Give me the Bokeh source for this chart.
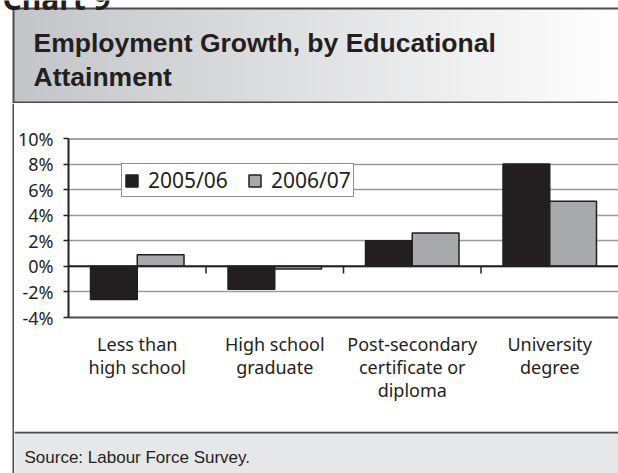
import numpy as np
from bokeh.plotting import figure
from bokeh.models import (Range1d, FactorRange, FixedTicker, PrintfTickFormatter,
                          Span, ColumnDataSource, Legend, LegendItem)
from bokeh.transform import dodge
from bokeh.layouts import column, row
from bokeh.core.properties import value
from bokeh.embed import file_html
from bokeh.resources import INLINE

# ---------------- data ----------------
categories = ["Less than\nhigh school", "High school\ngraduate",
              "Post-secondary\ncertificate or\ndiploma", "University\ndegree"]
series_names = ["2005/06", "2006/07"]
growth_2005_06 = [-2.6, -1.8, 2.0, 8.0]
growth_2006_07 = [0.9, -0.2, 2.6, 5.1]
y_ticks = [-4, -2, 0, 2, 4, 6, 8, 10]

chart_label = "Chart 9"
title_lines = ["Employment Growth, by Educational", "Attainment"]
source_text = "Source: Labour Force Survey."

# ---------------- styles ----------------
W = 618
INK = "#231f20"
FRAME = "#4d4d4d"
DARK_FILL = "#231f20"
GRAY_FILL = "#a7a9ac"
GRID = "#9a9a9a"
FOOT_BG = "#e6e7e8"
AXIS_FONT = "Noto Sans"
TITLE_FONT = "Liberation Sans"


def bare(fig, bg="white"):
    fig.axis.visible = False
    fig.grid.visible = False
    fig.outline_line_color = None
    fig.background_fill_color = bg
    fig.border_fill_color = bg
    return fig


# ---------------- header ----------------
HH = 103
header = bare(figure(width=W, height=HH, x_range=Range1d(0, W), y_range=Range1d(0, HH),
                     output_backend="svg", toolbar_location=None, min_border=0,
                     frame_align=False))
n = W - 13
t = np.linspace(0, 1, n)
left_c = np.array([196, 197, 200], dtype=float)
right_c = np.array([255, 255, 255], dtype=float)
img = np.zeros((1, n), dtype=np.uint32)
view = img.view(dtype=np.uint8).reshape((1, n, 4))
for k in range(3):
    view[0, :, k] = (left_c[k] + (right_c[k] - left_c[k]) * t).astype(np.uint8)
view[0, :, 3] = 255
header.image_rgba(image=[img], x=13, y=0, dw=n, dh=HH - 8)
header.segment(x0=[13, 13, 13], y0=[HH - 8, HH - 8, 1], x1=[W, 13, W], y1=[HH - 8, 0, 1],
               line_color=FRAME, line_width=2)
header.text(x=[2], y=[HH + 2], text=[chart_label], text_font=value("Noto Sans"),
            text_font_style="bold", text_font_size=value("30px"), text_color=INK,
            text_baseline="alphabetic")
header.text(x=[33, 33], y=[HH - 42, HH - 76], text=title_lines, text_font=value(TITLE_FONT),
            text_font_style="bold", text_font_size=value("26.5px"), text_color=INK,
            text_baseline="alphabetic")

# ---------------- left strip ----------------
SH = 473 - HH
strip = bare(figure(width=14, height=SH, x_range=Range1d(0, 14), y_range=Range1d(0, SH),
                    output_backend="svg", toolbar_location=None, min_border=0,
                    frame_align=False))
strip.segment(x0=[13], y0=[0], x1=[13], y1=[SH], line_color=FRAME, line_width=2)

# ---------------- body (chart) ----------------
BW, BH = W - 14, 328
body = figure(width=BW, height=BH, x_range=FactorRange(*categories),
              y_range=Range1d(y_ticks[0], y_ticks[-1]),
              output_backend="svg", toolbar_location=None, frame_align=False,
              min_border_left=54, min_border_right=0, min_border_top=35, min_border_bottom=114)
body.outline_line_color = None
body.background_fill_color = "white"
body.border_fill_color = "white"
body.x_range.range_padding = 0

src = ColumnDataSource(dict(cat=categories, a=growth_2005_06, b=growth_2006_07))
r1 = body.vbar(x=dodge("cat", -0.17, range=body.x_range), top="a", bottom=0, width=0.34,
               source=src, fill_color=DARK_FILL, line_color=INK, line_width=1.5)
r2 = body.vbar(x=dodge("cat", 0.17, range=body.x_range), top="b", bottom=0, width=0.34,
               source=src, fill_color=GRAY_FILL, line_color=INK, line_width=1.5)

# y axis
yax = body.yaxis[0]
yax.ticker = FixedTicker(ticks=y_ticks)
yax.formatter = PrintfTickFormatter(format="%d%%")
yax.major_tick_out = 5
yax.major_tick_in = 0
yax.minor_tick_line_color = None
yax.axis_line_color = INK
yax.axis_line_width = 2
yax.major_tick_line_color = INK
yax.major_tick_line_width = 1.5
yax.major_label_standoff = 10
yax.major_label_text_font = AXIS_FONT
yax.major_label_text_font_size = "18px"
yax.major_label_text_color = INK

# x axis (bottom, acts as the -4% frame line)
xax = body.xaxis[0]
xax.major_tick_line_color = None
xax.minor_tick_line_color = None
xax.axis_line_color = FRAME
xax.axis_line_width = 2
xax.major_label_standoff = 8
xax.major_label_text_font = AXIS_FONT
xax.major_label_text_font_size = "18px"
xax.major_label_text_color = INK
xax.major_label_text_line_height = 0.96

body.xgrid.visible = False
body.ygrid.ticker = FixedTicker(ticks=y_ticks[1:-1])
body.ygrid.grid_line_color = GRID
body.ygrid.grid_line_width = 1.5

body.add_layout(Span(location=y_ticks[-1], dimension="width", line_color=FRAME, line_width=2))
body.add_layout(Span(location=0, dimension="width", line_color=INK, line_width=2))

# category boundary tick marks hanging below the zero line
bounds = list(range(1, len(categories)))
body.segment(x0=bounds, y0=[0] * len(bounds), x1=bounds, y1=[-0.55] * len(bounds),
             line_color=INK, line_width=1.5)

legend = Legend(items=[LegendItem(label=series_names[0], renderers=[r1]),
                       LegendItem(label=series_names[1], renderers=[r2])],
                location=(53, 120), orientation="horizontal",
                glyph_width=15, glyph_height=15, label_standoff=9, spacing=19,
                padding=2, margin=0,
                label_text_font=AXIS_FONT, label_text_font_size="21px",
                label_text_color=INK,
                border_line_color=INK, border_line_width=1.5,
                background_fill_color="white", background_fill_alpha=1.0)
body.add_layout(legend)

# ---------------- footer ----------------
FH = 473 - HH - BH
footer = bare(figure(width=BW, height=FH, x_range=Range1d(0, BW), y_range=Range1d(0, FH),
                     output_backend="svg", toolbar_location=None, min_border=0,
                     frame_align=False), bg=FOOT_BG)
footer.segment(x0=[0], y0=[FH - 1], x1=[BW], y1=[FH - 1], line_color=FRAME, line_width=2)
footer.text(x=[10], y=[FH - 26], text=[source_text], text_font=value(TITLE_FONT),
            text_font_size=value("17px"), text_color=INK, text_baseline="alphabetic")

layout = column(header, row(strip, column(body, footer, spacing=0), spacing=0), spacing=0)

html = file_html(layout, INLINE)
html = html.replace("</head>", "<style>html, body { overflow: hidden; }</style></head>", 1)
open("out.html", "w").write(html)
